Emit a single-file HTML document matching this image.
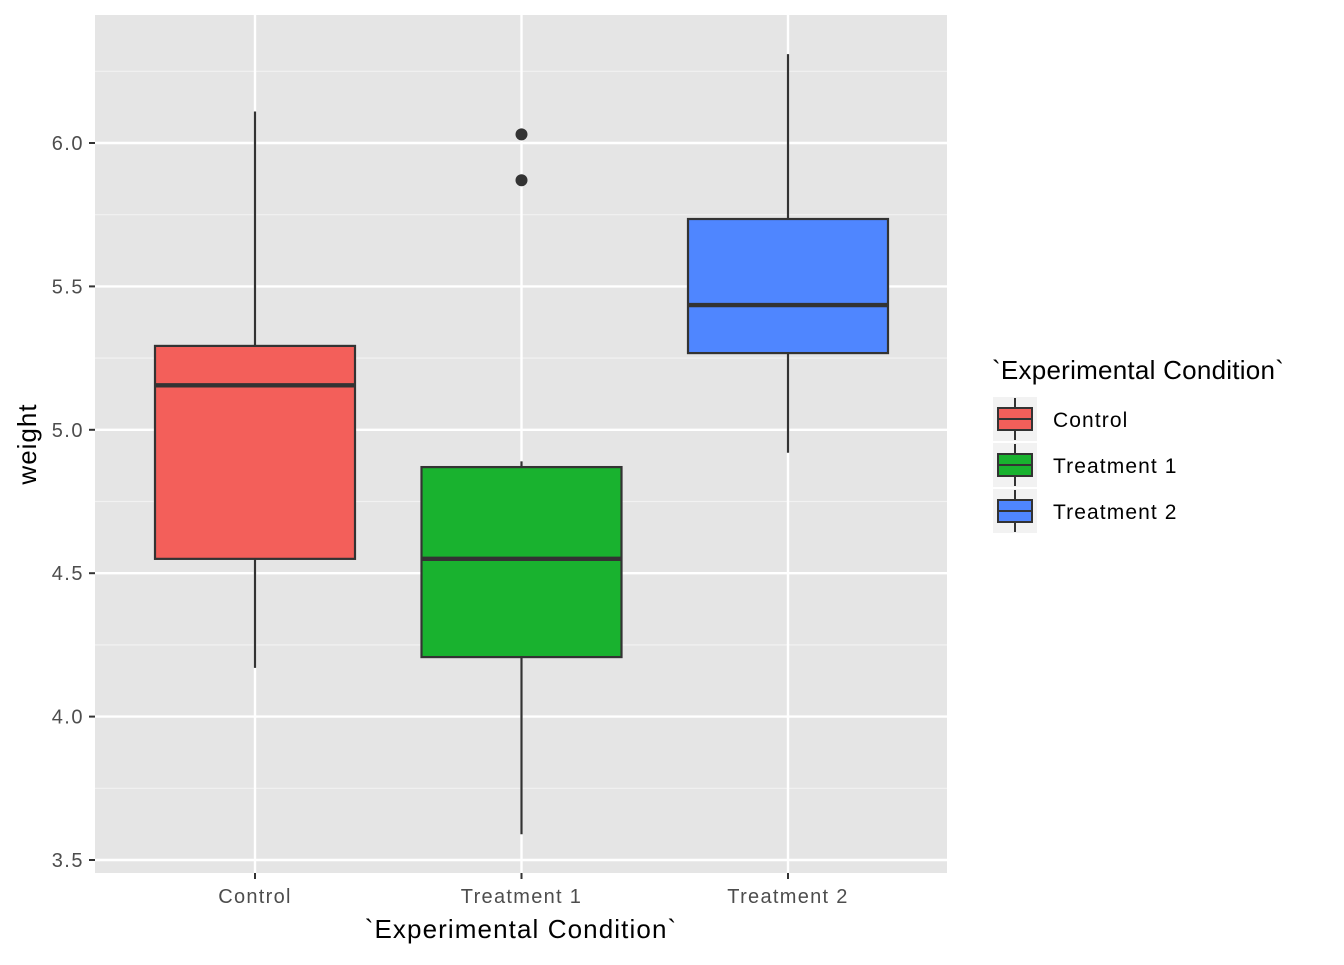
<!DOCTYPE html>
<html><head><meta charset="utf-8"><style>
body{margin:0;background:#fff;width:1344px;height:960px;overflow:hidden;font-family:"Liberation Sans",Arial,sans-serif}
</style></head><body>
<svg id="chart" width="1344" height="960" xmlns="http://www.w3.org/2000/svg" font-family="Liberation Sans, Arial, sans-serif">
<rect x="95" y="15" width="852" height="858" fill="#e5e5e5"/>
<g id="grid"></g>
<g id="boxes"></g>
<g id="axes"></g>
<text x="521" y="938" font-size="26" letter-spacing="1.1" text-anchor="middle" fill="#000">`Experimental Condition`</text>
<text transform="translate(36,444) rotate(-90)" font-size="26" letter-spacing="1" text-anchor="middle" fill="#000">weight</text>
<g id="legend">
<text x="992" y="379" font-size="26" letter-spacing="0.25" fill="#000">`Experimental Condition`</text>
</g>
</svg>
<script>
const categories=["Control","Treatment 1","Treatment 2"];
const fills=["#f35f5a","#19b22f","#4f86ff"];
const lowerWhisker=[4.17,3.59,4.92];
const q1=[4.55,4.2075,5.2675];
const median=[5.155,4.55,5.435];
const q3=[5.2925,4.87,5.735];
const upperWhisker=[6.11,4.89,6.31];
const outlierValues=[[],[5.87,6.03],[]];
const yTicks=[3.5,4.0,4.5,5.0,5.5,6.0];
const yTickLabels=["3.5","4.0","4.5","5.0","5.5","6.0"];
const NS="http://www.w3.org/2000/svg";
const y=v=>860-(v-3.5)*286.8;
const x=i=>255+i*266.5;
function mk(tag,attrs,parent){const e=document.createElementNS(NS,tag);for(const k in attrs)e.setAttribute(k,attrs[k]);parent.appendChild(e);return e;}
const grid=document.getElementById('grid'),boxes=document.getElementById('boxes'),axes=document.getElementById('axes'),legend=document.getElementById('legend');
for(let i=0;i<yTicks.length-1;i++){const m=(yTicks[i]+yTicks[i+1])/2;
const l=mk('line',{x1:95,x2:947,y1:y(m),y2:y(m),stroke:'#f2f2f2','stroke-width':1.2},grid);

}
const mtop=yTicks[yTicks.length-1]+0.25;
const lm=mk('line',{x1:95,x2:947,y1:y(mtop),y2:y(mtop),stroke:'#f2f2f2','stroke-width':1.2},grid);


yTicks.forEach((t,i)=>{
const l=mk('line',{x1:95,x2:947,y1:y(t),y2:y(t),stroke:'#fff','stroke-width':2.4},grid);


const tk=mk('line',{x1:89,x2:95,y1:y(t),y2:y(t),stroke:'#333','stroke-width':2},axes);


const tx=mk('text',{x:84,y:y(t)+7,'font-size':20,'letter-spacing':1.5,'text-anchor':'end',fill:'#4d4d4d'},axes);
tx.textContent=yTickLabels[i];


});
categories.forEach((c,i)=>{
const l=mk('line',{x1:x(i),x2:x(i),y1:15,y2:873,stroke:'#fff','stroke-width':2.4},grid);


const tk=mk('line',{x1:x(i),x2:x(i),y1:873,y2:879,stroke:'#333','stroke-width':2},axes);


const tx=mk('text',{x:x(i),y:903,'font-size':20,'letter-spacing':1.3,'text-anchor':'middle',fill:'#4d4d4d'},axes);
tx.textContent=c;


const g=mk('g',{},boxes);


mk('line',{x1:x(i),x2:x(i),y1:y(upperWhisker[i]),y2:y(q3[i]),stroke:'#333','stroke-width':2.2},g);
mk('line',{x1:x(i),x2:x(i),y1:y(q1[i]),y2:y(lowerWhisker[i]),stroke:'#333','stroke-width':2.2},g);
mk('rect',{x:x(i)-100,y:y(q3[i]),width:200,height:y(q1[i])-y(q3[i]),fill:fills[i],stroke:'#333','stroke-width':2.2},g);
mk('line',{x1:x(i)-100,x2:x(i)+100,y1:y(median[i]),y2:y(median[i]),stroke:'#333','stroke-width':4.4},g);
outlierValues[i].forEach(v=>{const p=mk('circle',{cx:x(i),cy:y(v),r:6,fill:'#333'},g);

});
const cy=419+i*46;
const lg=mk('g',{},legend);


mk('rect',{x:993,y:cy-22,width:44,height:44,fill:'#f2f2f2'},lg);
mk('line',{x1:1015,x2:1015,y1:cy-21,y2:cy+21,stroke:'#333','stroke-width':2},lg);
mk('rect',{x:998,y:cy-11,width:34,height:22,fill:fills[i],stroke:'#333','stroke-width':2},lg);
mk('line',{x1:998,x2:1032,y1:cy,y2:cy,stroke:'#333','stroke-width':2},lg);
const lt=mk('text',{x:1053,y:cy+8,'font-size':21,'letter-spacing':1.1,fill:'#000'},lg);
lt.textContent=c;
});
</script>
</body></html>
